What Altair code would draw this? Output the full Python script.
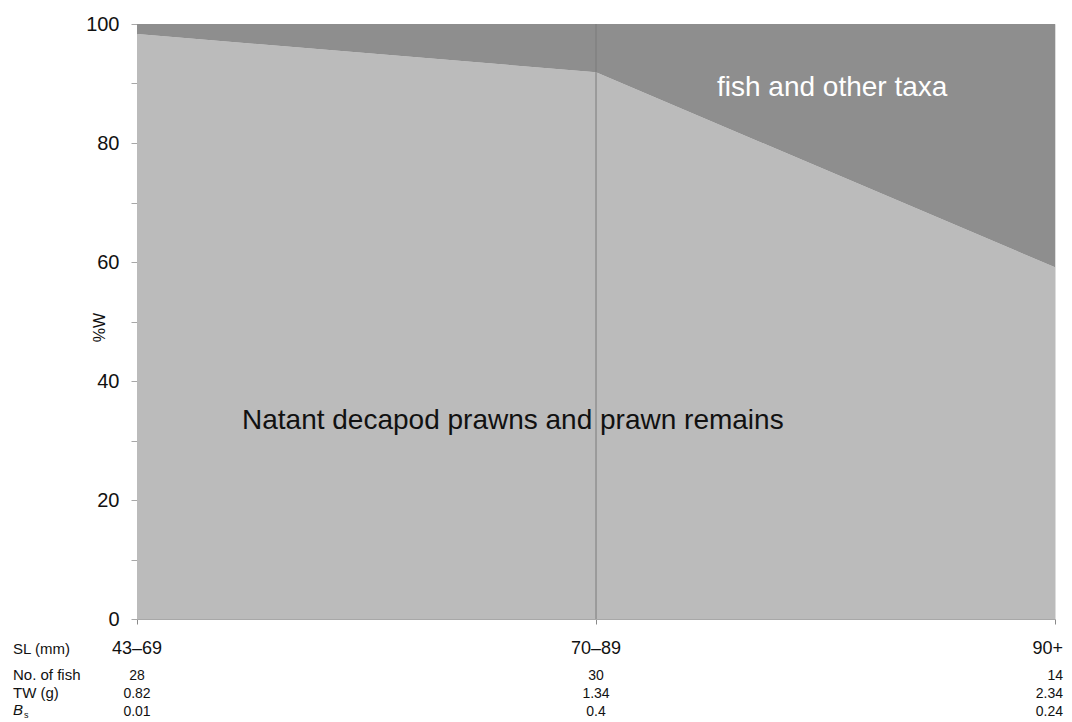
import altair as alt
import pandas as pd

size_classes = ["43–69", "70–89", "90+"]
prawn_pct = [98.3, 91.9, 59.1]
other_pct = [1.7, 8.1, 40.9]
n_fish = ["28", "30", "14"]
tw_g = ["0.82", "1.34", "2.34"]
bs_vals = ["0.01", "0.4", "0.24"]
row_labels = ["SL (mm)", "No. of fish", "TW (g)"]

FONT = "Liberation Sans"
W, H = 918, 595

df = pd.DataFrame({
    "idx": list(range(len(size_classes))),
    "cls": size_classes,
    "prawn": prawn_pct,
    "other": other_pct,
    "nfish": n_fish,
    "tw": tw_g,
    "bs": bs_vals,
})

xs = alt.Scale(domain=[0, 2], nice=False, zero=False, padding=0)
ys = alt.Scale(domain=[0, 100], nice=False)

base = alt.Chart(df)

light = base.mark_area(color="#bbbbbb", opacity=1, interpolate="linear").encode(
    x=alt.X("idx:Q", scale=xs, axis=alt.Axis(
        values=[0, 1, 2], labels=False, title=None, grid=False,
        domainColor="#a8a8a8", tickColor="#8a8a8a", tickSize=5)),
    y=alt.Y("prawn:Q", scale=ys, axis=alt.Axis(
        values=list(range(0, 101, 10)),
        labelExpr="datum.value % 20 == 0 ? datum.label : ''",
        title="%W", titleAngle=-90, titleX=-38, titleY=303,
        titleAlign="center", titleBaseline="middle",
        titleFontSize=16, titleFontWeight="normal", titleColor="#111",
        labelFontSize=20, labelColor="#111", labelPadding=12,
        tickSize=6, tickColor="#a8a8a8", domainColor="#a8a8a8", grid=False)),
    y2=alt.datum(0),
)

dark = base.transform_calculate(total="datum.prawn + datum.other").mark_area(
    color="#8e8e8e", opacity=1, interpolate="linear").encode(
    x=alt.X("idx:Q", scale=xs),
    y=alt.Y("prawn:Q", scale=ys),
    y2="total:Q",
)

vline = base.transform_filter("datum.idx == 1").transform_calculate(
    top="datum.prawn + datum.other", bot="0").mark_rule(color="#7a7a7a", strokeWidth=1).encode(
    x=alt.X("idx:Q", scale=xs),
    y=alt.Y("top:Q", scale=ys),
    y2="bot:Q",
)

fish_lbl = alt.Chart(pd.DataFrame({"t": ["fish and other taxa"]})).mark_text(
    align="left", baseline="alphabetic", fontSize=28, color="white", font=FONT).encode(
    text="t:N", x=alt.value(580), y=alt.value(72))

prawn_lbl = alt.Chart(pd.DataFrame({"t": ["Natant decapod prawns and prawn remains"]})).mark_text(
    align="left", baseline="alphabetic", fontSize=28, color="#111", font=FONT).encode(
    text="t:N", x=alt.value(105), y=alt.value(405))

ROWS_Y = {"cls": 630, "nfish": 656, "tw": 674, "bs": 692}
SIZES = {"cls": 18, "nfish": 14, "tw": 14, "bs": 14}

table_layers = []
for field, yy in ROWS_Y.items():
    inner = base.transform_filter("datum.idx < 2").mark_text(
        fontSize=SIZES[field], align="center", baseline="alphabetic", color="#111", font=FONT).encode(
        x=alt.X("idx:Q", scale=xs), y=alt.value(yy), text=f"{field}:N")
    last = base.transform_filter("datum.idx == 2").mark_text(
        fontSize=SIZES[field], align="right", dx=8, baseline="alphabetic", color="#111", font=FONT).encode(
        x=alt.X("idx:Q", scale=xs), y=alt.value(yy), text=f"{field}:N")
    table_layers += [inner, last]

rl = pd.DataFrame({"t": row_labels, "yy": [630, 656, 674]})
row_txt = alt.Chart(rl).mark_text(fontSize=15, align="left", baseline="alphabetic", color="#111", font=FONT).encode(
    x=alt.value(-124), y=alt.Y("yy:Q", scale=None), text="t:N")
b_txt = alt.Chart(pd.DataFrame({"t": ["B"]})).mark_text(
    fontSize=15, align="left", baseline="alphabetic", fontStyle="italic", color="#111", font=FONT).encode(
    x=alt.value(-124), y=alt.value(691), text="t:N")
s_txt = alt.Chart(pd.DataFrame({"t": ["s"]})).mark_text(
    fontSize=9, align="left", baseline="alphabetic", color="#111", font=FONT).encode(
    x=alt.value(-113), y=alt.value(694), text="t:N")

chart = alt.layer(
    light, dark, vline, fish_lbl, prawn_lbl,
    *table_layers, row_txt, b_txt, s_txt
).properties(
    width=W, height=H,
    autosize=alt.AutoSizeParams(type="none"),
    padding={"left": 129, "top": 16, "right": 9, "bottom": 102},
).configure_view(stroke=None).configure(font=FONT).configure_axis(labelFont=FONT, titleFont=FONT)

chart.save("out.html", embed_options={"renderer": "svg", "actions": False})
